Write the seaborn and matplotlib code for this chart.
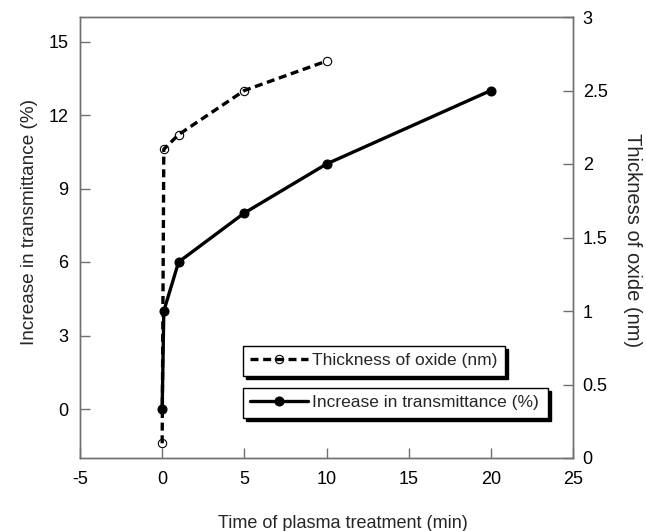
import matplotlib
matplotlib.use("Agg")
import matplotlib.pyplot as plt
import seaborn as sns
import pandas as pd

# Data
time_trans = [0, 0.1, 1, 5, 10, 20]
trans = [0, 4, 6, 8, 10, 13]
time_oxide = [0, 0.1, 1, 5, 10]
oxide = [0.1, 2.1, 2.2, 2.5, 2.7]

x_ticks = [-5, 0, 5, 10, 15, 20, 25]
y1_ticks = [0, 3, 6, 9, 12, 15]
y2_ticks = [0, 0.5, 1, 1.5, 2, 2.5, 3]
y2_labels = ["0", "0.5", "1", "1.5", "2", "2.5", "3"]

label_trans = "Increase in transmittance (%)"
label_oxide = "Thickness of oxide (nm)"

sns.set_style("white")
plt.rcParams["font.family"] = ["Liberation Sans", "DejaVu Sans"]
plt.rcParams["font.size"] = 13

fig = plt.figure(figsize=(6.46, 5.31), dpi=100)
ax = fig.add_axes([80 / 646, (531 - 458) / 531, 493 / 646, 441 / 531])
ax2 = ax.twinx()

df_t = pd.DataFrame({"t": time_trans, "v": trans})
df_o = pd.DataFrame({"t": time_oxide, "v": oxide})

sns.lineplot(data=df_t, x="t", y="v", ax=ax, color="k", sort=False, estimator=None,
             linewidth=2.4, marker="o", markersize=6.5, markerfacecolor="k",
             markeredgecolor="k", label=label_trans, legend=False)
sns.lineplot(data=df_o, x="t", y="v", ax=ax2, color="k", sort=False, estimator=None,
             linewidth=2.4, linestyle=(0, (2.4, 1.4)), marker="o", markersize=6,
             markerfacecolor="none", markeredgecolor="k", markeredgewidth=0.8,
             label=label_oxide, legend=False)

ax.set_xlim(-5, 25)
ax.set_ylim(-2, 16)
ax2.set_ylim(0, 3)
ax.set_xticks(x_ticks)
ax.set_xticklabels([str(v) for v in x_ticks])
ax.set_yticks(y1_ticks)
ax.set_yticklabels([str(v) for v in y1_ticks])
ax2.set_yticks(y2_ticks)
ax2.set_yticklabels(y2_labels)

spine_c = "#707070"
for a in (ax, ax2):
    for s in a.spines.values():
        s.set_color(spine_c)
        s.set_linewidth(1.0)
        s.set_visible(True)

ax.tick_params(axis="x", direction="in", length=7, width=1, color=spine_c, pad=9.5,
               labelsize=13, labelcolor="k", top=False, bottom=True)
ax.tick_params(axis="y", direction="in", length=7, width=1, color=spine_c, pad=8.5,
               labelsize=13, labelcolor="k", left=True, right=False)
ax2.tick_params(axis="y", direction="in", length=7, width=1, color=spine_c, pad=7,
                labelsize=13, labelcolor="k", right=True, left=False)

ax.set_xlabel("Time of plasma treatment (min)", fontsize=13, labelpad=19)
ax.xaxis.label.set_x((343 - 80) / 493)
ax.set_ylabel(label_trans, fontsize=13.7, labelpad=7)
ax.yaxis.label.set_y((458 - 222) / 441)
ax2.set_ylabel(label_oxide, fontsize=14.5, rotation=270, labelpad=25)
ax2.yaxis.label.set_y((458 - 240) / 441)

# Legends: two separate boxes with shadows
h_t = ax.get_lines()[0]
h_o = ax2.get_lines()[0]
W, H = 493, 441


def box(x0, y0, x1, y1):
    return ((x0 - 80) / W, (458 - y1) / H, (x1 - x0) / W, (y1 - y0) / H)


common = dict(loc="upper left", mode="expand", borderaxespad=0, frameon=True,
              fancybox=False, shadow={"color": "k", "alpha": 1.0}, fontsize=12.5,
              handlelength=3.3, handletextpad=0.25, borderpad=0.42)
leg1 = ax2.legend([h_o], [label_oxide], bbox_to_anchor=box(243, 346, 505, 380), **common)
leg1.get_frame().set_edgecolor("k")
leg1.get_frame().set_linewidth(1.0)
ax2.add_artist(leg1)
leg2 = ax2.legend([h_t], [label_trans], bbox_to_anchor=box(243, 388, 548, 422), **common)
leg2.get_frame().set_edgecolor("k")
leg2.get_frame().set_linewidth(1.0)

fig.savefig("out.png", dpi=100)
